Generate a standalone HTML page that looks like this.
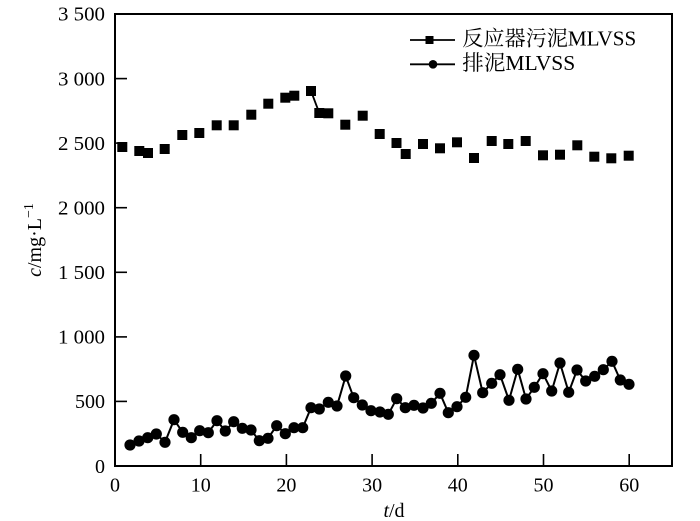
<!DOCTYPE html>
<html>
<head>
<meta charset="utf-8">
<style>
html,body{margin:0;padding:0;background:#fff;}
svg{display:block;}
text{font-family:"Liberation Serif","Noto Serif CJK SC","Noto Sans CJK SC",serif;fill:#000;}
</style>
</head>
<body>
<svg width="700" height="521" viewBox="0 0 700 521" xmlns="http://www.w3.org/2000/svg">
<!-- frame -->
<rect x="115" y="14" width="557" height="452" fill="none" stroke="#000" stroke-width="2"/>
<!-- y ticks -->
<g stroke="#000" stroke-width="1.6">
<line x1="115" y1="401.4" x2="127" y2="401.4"/>
<line x1="115" y1="336.9" x2="127" y2="336.9"/>
<line x1="115" y1="272.3" x2="127" y2="272.3"/>
<line x1="115" y1="207.7" x2="127" y2="207.7"/>
<line x1="115" y1="143.1" x2="127" y2="143.1"/>
<line x1="115" y1="78.6" x2="127" y2="78.6"/>
<!-- x ticks -->
<line x1="200.7" y1="466" x2="200.7" y2="454"/>
<line x1="286.4" y1="466" x2="286.4" y2="454"/>
<line x1="372.1" y1="466" x2="372.1" y2="454"/>
<line x1="457.8" y1="466" x2="457.8" y2="454"/>
<line x1="543.5" y1="466" x2="543.5" y2="454"/>
<line x1="629.2" y1="466" x2="629.2" y2="454"/>
</g>
<!-- y tick labels -->
<g font-size="20" text-anchor="end">
<text x="105" y="473">0</text>
<text x="105" y="408.1">500</text>
<text x="105" y="343.6" textLength="47" lengthAdjust="spacingAndGlyphs">1 000</text>
<text x="105" y="279" textLength="47" lengthAdjust="spacingAndGlyphs">1 500</text>
<text x="105" y="214.4" textLength="47" lengthAdjust="spacingAndGlyphs">2 000</text>
<text x="105" y="149.8" textLength="47" lengthAdjust="spacingAndGlyphs">2 500</text>
<text x="105" y="85.3" textLength="47" lengthAdjust="spacingAndGlyphs">3 000</text>
<text x="105" y="20.7" textLength="47" lengthAdjust="spacingAndGlyphs">3 500</text>
</g>
<!-- x tick labels -->
<g font-size="20" text-anchor="middle">
<text x="115" y="491.5">0</text>
<text x="200.7" y="491.5">10</text>
<text x="286.4" y="491.5">20</text>
<text x="372.1" y="491.5">30</text>
<text x="457.8" y="491.5">40</text>
<text x="543.5" y="491.5">50</text>
<text x="629.2" y="491.5">60</text>
</g>
<!-- axis labels -->
<text x="394" y="517" font-size="20" text-anchor="middle"><tspan font-style="italic">t</tspan>/d</text>
<text transform="translate(41,240) rotate(-90)" font-size="20" text-anchor="middle"><tspan font-style="italic">c</tspan>/mg·L<tspan font-size="14" dy="-8">−1</tspan></text>

<!-- square series -->
<line x1="311" y1="91" x2="319.3" y2="113" stroke="#000" stroke-width="1.8"/>
<g fill="#000">
<rect x="117.3" y="142" width="10" height="10"/><rect x="134.3" y="146" width="10" height="10"/><rect x="143" y="148" width="10" height="10"/><rect x="159.7" y="144" width="10" height="10"/><rect x="177.3" y="130" width="10" height="10"/><rect x="194.3" y="128" width="10" height="10"/><rect x="211.7" y="120.3" width="10" height="10"/><rect x="228.7" y="120.3" width="10" height="10"/><rect x="246.3" y="109.7" width="10" height="10"/><rect x="263.3" y="98.7" width="10" height="10"/><rect x="280.3" y="92.7" width="10" height="10"/><rect x="289.3" y="90.7" width="10" height="10"/><rect x="306" y="86" width="10" height="10"/><rect x="314.3" y="108" width="10" height="10"/><rect x="323.3" y="108.3" width="10" height="10"/><rect x="340.3" y="119.7" width="10" height="10"/><rect x="357.7" y="110.7" width="10" height="10"/><rect x="374.7" y="129" width="10" height="10"/><rect x="391.5" y="138" width="10" height="10"/><rect x="400.7" y="149" width="10" height="10"/><rect x="418" y="139" width="10" height="10"/><rect x="435" y="143.3" width="10" height="10"/><rect x="452" y="137.3" width="10" height="10"/><rect x="469" y="153" width="10" height="10"/><rect x="486.7" y="136" width="10" height="10"/><rect x="503.3" y="139" width="10" height="10"/><rect x="520.7" y="136" width="10" height="10"/><rect x="538" y="150.3" width="10" height="10"/><rect x="555" y="149.7" width="10" height="10"/><rect x="572.3" y="140.3" width="10" height="10"/><rect x="589.3" y="151.7" width="10" height="10"/><rect x="606.3" y="153.3" width="10" height="10"/><rect x="623.7" y="150.7" width="10" height="10"/>
</g>

<!-- circle series -->
<polyline fill="none" stroke="#000" stroke-width="2" points="130,445 139,441 147.7,437.7 156.3,434 165,442.3 174,419.7 182.7,432.3 191.3,437.7 199.7,430.7 208.3,432.7 217,420.7 225.3,431 233.7,421.7 242.3,428.3 251,430 259.3,440.7 268,438.3 276.7,425.7 285.3,433.7 294,427.7 302.7,427.7 311,407.7 319.3,409 328.3,402.3 337,406 345.7,376 353.7,397.7 362.3,405 371,410.7 380,412 388.3,414.3 396.7,398.7 405.3,407.7 414,405.3 423,408 431.3,403.3 440,393.3 448.3,412.7 457,406.7 465.7,397.3 474,355.3 482.7,392.7 491.7,383.3 500,374.7 509,400.3 517.7,369.3 526,399 534.3,387.3 543,373.7 551.7,391 560,363 568.7,392.3 577,370 585.7,381 594.7,376.3 603.3,369.7 612,361.3 620.3,380 629,384.3"/>
<g fill="#000">
<circle cx="130" cy="445" r="5.6"/><circle cx="139" cy="441" r="5.6"/><circle cx="147.7" cy="437.7" r="5.6"/><circle cx="156.3" cy="434" r="5.6"/><circle cx="165" cy="442.3" r="5.6"/><circle cx="174" cy="419.7" r="5.6"/><circle cx="182.7" cy="432.3" r="5.6"/><circle cx="191.3" cy="437.7" r="5.6"/><circle cx="199.7" cy="430.7" r="5.6"/><circle cx="208.3" cy="432.7" r="5.6"/><circle cx="217" cy="420.7" r="5.6"/><circle cx="225.3" cy="431" r="5.6"/><circle cx="233.7" cy="421.7" r="5.6"/><circle cx="242.3" cy="428.3" r="5.6"/><circle cx="251" cy="430" r="5.6"/><circle cx="259.3" cy="440.7" r="5.6"/><circle cx="268" cy="438.3" r="5.6"/><circle cx="276.7" cy="425.7" r="5.6"/><circle cx="285.3" cy="433.7" r="5.6"/><circle cx="294" cy="427.7" r="5.6"/><circle cx="302.7" cy="427.7" r="5.6"/><circle cx="311" cy="407.7" r="5.6"/><circle cx="319.3" cy="409" r="5.6"/><circle cx="328.3" cy="402.3" r="5.6"/><circle cx="337" cy="406" r="5.6"/><circle cx="345.7" cy="376" r="5.6"/><circle cx="353.7" cy="397.7" r="5.6"/><circle cx="362.3" cy="405" r="5.6"/><circle cx="371" cy="410.7" r="5.6"/><circle cx="380" cy="412" r="5.6"/><circle cx="388.3" cy="414.3" r="5.6"/><circle cx="396.7" cy="398.7" r="5.6"/><circle cx="405.3" cy="407.7" r="5.6"/><circle cx="414" cy="405.3" r="5.6"/><circle cx="423" cy="408" r="5.6"/><circle cx="431.3" cy="403.3" r="5.6"/><circle cx="440" cy="393.3" r="5.6"/><circle cx="448.3" cy="412.7" r="5.6"/><circle cx="457" cy="406.7" r="5.6"/><circle cx="465.7" cy="397.3" r="5.6"/><circle cx="474" cy="355.3" r="5.6"/><circle cx="482.7" cy="392.7" r="5.6"/><circle cx="491.7" cy="383.3" r="5.6"/><circle cx="500" cy="374.7" r="5.6"/><circle cx="509" cy="400.3" r="5.6"/><circle cx="517.7" cy="369.3" r="5.6"/><circle cx="526" cy="399" r="5.6"/><circle cx="534.3" cy="387.3" r="5.6"/><circle cx="543" cy="373.7" r="5.6"/><circle cx="551.7" cy="391" r="5.6"/><circle cx="560" cy="363" r="5.6"/><circle cx="568.7" cy="392.3" r="5.6"/><circle cx="577" cy="370" r="5.6"/><circle cx="585.7" cy="381" r="5.6"/><circle cx="594.7" cy="376.3" r="5.6"/><circle cx="603.3" cy="369.7" r="5.6"/><circle cx="612" cy="361.3" r="5.6"/><circle cx="620.3" cy="380" r="5.6"/><circle cx="629" cy="384.3" r="5.6"/>
</g>

<!-- legend -->
<line x1="410" y1="40" x2="455" y2="40" stroke="#000" stroke-width="1.8"/>
<rect x="425.5" y="36" width="8" height="8" fill="#000"/>
<line x1="410" y1="64.3" x2="455" y2="64.3" stroke="#000" stroke-width="1.8"/>
<circle cx="433" cy="64.3" r="4.3" fill="#000"/>
<text x="462.3" y="45.5" font-size="21" textLength="174" lengthAdjust="spacingAndGlyphs">反应器污泥MLVSS</text>
<text x="462.3" y="70" font-size="21" textLength="113" lengthAdjust="spacingAndGlyphs">排泥MLVSS</text>
</svg>
</body>
</html>
